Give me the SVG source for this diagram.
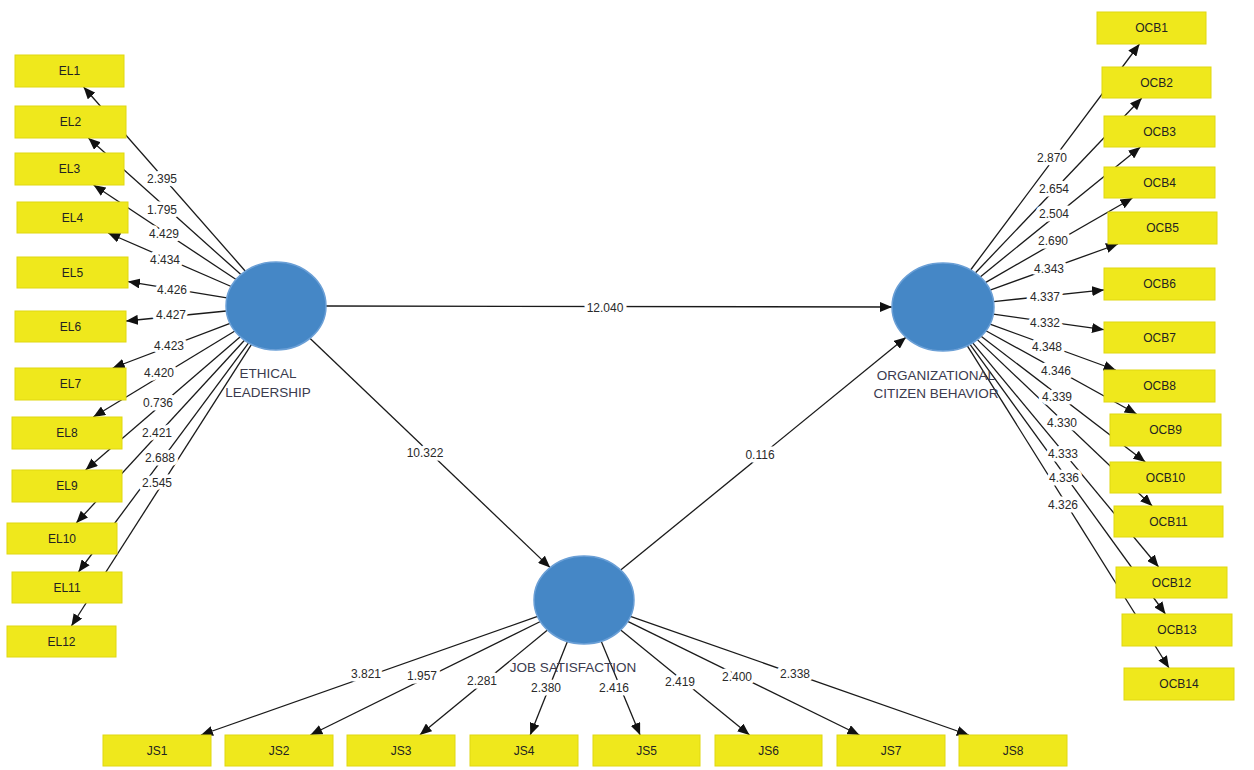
<svg xmlns="http://www.w3.org/2000/svg" width="1254" height="770" viewBox="0 0 1254 770">
<style>
.c{stroke:#1a1a1a;stroke-width:1.3;fill:none;marker-end:url(#ah)}
.box{fill:#efe81c;stroke:#e0d810;stroke-width:1}
.lv{fill:#4587c6;stroke:#6a9fd6;stroke-width:1.5}
.bt{font-family:"Liberation Sans",Arial,sans-serif;font-size:12px;fill:#222;text-anchor:middle}
.lt{font-family:"Liberation Sans",Arial,sans-serif;font-size:13.5px;fill:#3b3b4e;text-anchor:middle}
.nl{font-family:"Liberation Sans",Arial,sans-serif;font-size:12px;fill:#2a2a2a;text-anchor:middle;stroke:#fff;stroke-width:7;paint-order:stroke;stroke-linejoin:round}
</style>
<defs>
<marker id="ah" markerUnits="userSpaceOnUse" viewBox="0 0 12 10" markerWidth="12" markerHeight="10" refX="12" refY="5" orient="auto">
<path d="M0,0 L12,5 L0,10 z" fill="#111"/>
</marker>
</defs>
<rect width="1254" height="770" fill="#fff"/>
<g id="connectors">
<line class="c" x1="245.4" y1="271.2" x2="83.6" y2="87"/>
<line class="c" x1="240.9" y1="274.6" x2="88.4" y2="138"/>
<line class="c" x1="236.1" y1="279.5" x2="93.6" y2="185"/>
<line class="c" x1="231.2" y1="286.5" x2="108.1" y2="233"/>
<line class="c" x1="226.9" y1="297.9" x2="128" y2="281.6"/>
<line class="c" x1="226.3" y1="311" x2="126" y2="321"/>
<line class="c" x1="230.1" y1="323.4" x2="112.7" y2="368"/>
<line class="c" x1="234.9" y1="331" x2="93.3" y2="417"/>
<line class="c" x1="240.3" y1="336.8" x2="85.6" y2="470"/>
<line class="c" x1="244.5" y1="340.2" x2="76.3" y2="523"/>
<line class="c" x1="248.6" y1="342.8" x2="78.5" y2="572"/>
<line class="c" x1="251.5" y1="344.3" x2="71.4" y2="626"/>
<line class="c" x1="970.6" y1="270" x2="1139.5" y2="44"/>
<line class="c" x1="975.3" y1="273" x2="1141.8" y2="98"/>
<line class="c" x1="980.2" y1="276.9" x2="1140.4" y2="147"/>
<line class="c" x1="985.4" y1="282.6" x2="1132.5" y2="198"/>
<line class="c" x1="990.1" y1="290.1" x2="1118" y2="244"/>
<line class="c" x1="993.6" y1="301.6" x2="1104" y2="289.9"/>
<line class="c" x1="993.3" y1="314.1" x2="1104" y2="329.7"/>
<line class="c" x1="990" y1="324.1" x2="1115.7" y2="370"/>
<line class="c" x1="985.9" y1="330.7" x2="1136.6" y2="414"/>
<line class="c" x1="981.1" y1="336.2" x2="1145.3" y2="462"/>
<line class="c" x1="977.3" y1="339.6" x2="1152.2" y2="506"/>
<line class="c" x1="972.7" y1="342.8" x2="1158.6" y2="567"/>
<line class="c" x1="970" y1="344.3" x2="1165.4" y2="614"/>
<line class="c" x1="967.2" y1="345.7" x2="1169" y2="668"/>
<line class="c" x1="537.6" y1="616.4" x2="201" y2="735"/>
<line class="c" x1="540.4" y1="621.5" x2="310.4" y2="735"/>
<line class="c" x1="547.5" y1="630" x2="419.8" y2="735"/>
<line class="c" x1="567.4" y1="641.5" x2="530.2" y2="735"/>
<line class="c" x1="601.2" y1="641.3" x2="640.1" y2="735"/>
<line class="c" x1="620.7" y1="629.9" x2="749.5" y2="735"/>
<line class="c" x1="627.7" y1="621.4" x2="859.4" y2="735"/>
<line class="c" x1="630.4" y1="616.3" x2="968.8" y2="735"/>
<line class="c" x1="326" y1="306" x2="892" y2="307"/>
<line class="c" x1="309.9" y1="338.3" x2="550.1" y2="567.6"/>
<line class="c" x1="620.7" y1="570.1" x2="906" y2="337.2"/>
<g id="labels">
<text class="nl" x="162" y="183">2.395</text>
<text class="nl" x="162" y="214">1.795</text>
<text class="nl" x="164" y="238">4.429</text>
<text class="nl" x="165" y="264">4.434</text>
<text class="nl" x="172" y="294">4.426</text>
<text class="nl" x="171" y="319">4.427</text>
<text class="nl" x="169" y="350">4.423</text>
<text class="nl" x="159" y="377">4.420</text>
<text class="nl" x="158" y="407">0.736</text>
<text class="nl" x="157" y="437">2.421</text>
<text class="nl" x="160" y="462">2.688</text>
<text class="nl" x="157" y="487">2.545</text>
<text class="nl" x="1052" y="162">2.870</text>
<text class="nl" x="1054" y="193">2.654</text>
<text class="nl" x="1054" y="218">2.504</text>
<text class="nl" x="1053" y="245">2.690</text>
<text class="nl" x="1049" y="273">4.343</text>
<text class="nl" x="1045" y="301">4.337</text>
<text class="nl" x="1045" y="327">4.332</text>
<text class="nl" x="1047" y="351">4.348</text>
<text class="nl" x="1056" y="375">4.346</text>
<text class="nl" x="1057" y="401">4.339</text>
<text class="nl" x="1062" y="427">4.330</text>
<text class="nl" x="1063" y="458">4.333</text>
<text class="nl" x="1064" y="482">4.336</text>
<text class="nl" x="1063" y="509">4.326</text>
<text class="nl" x="366" y="678">3.821</text>
<text class="nl" x="422" y="680">1.957</text>
<text class="nl" x="482" y="685">2.281</text>
<text class="nl" x="546" y="692">2.380</text>
<text class="nl" x="614" y="692">2.416</text>
<text class="nl" x="680" y="686">2.419</text>
<text class="nl" x="737" y="681">2.400</text>
<text class="nl" x="795" y="678">2.338</text>
<text class="nl" x="605" y="312">12.040</text>
<text class="nl" x="425" y="457">10.322</text>
<text class="nl" x="760" y="459">0.116</text>
</g>
</g>
<g id="EL"><ellipse class="lv" cx="276" cy="306" rx="50" ry="44"/><text class="lt" x="268" y="378">ETHICAL</text><text class="lt" x="268" y="397">LEADERSHIP</text></g>
<g id="OCB"><ellipse class="lv" cx="943" cy="307" rx="51" ry="44"/><text class="lt" x="936" y="380">ORGANIZATIONAL</text><text class="lt" x="936" y="398">CITIZEN BEHAVIOR</text></g>
<g id="JS"><ellipse class="lv" cx="584" cy="600" rx="50" ry="44"/><text class="lt" x="573" y="672">JOB SATISFACTION</text></g>
<g id="EL1"><rect class="box" x="15" y="55" width="109" height="32"/><text class="bt" x="69.5" y="75">EL1</text></g>
<g id="EL2"><rect class="box" x="15" y="106" width="111" height="32"/><text class="bt" x="70.5" y="126">EL2</text></g>
<g id="EL3"><rect class="box" x="15" y="153" width="109" height="32"/><text class="bt" x="69.5" y="173">EL3</text></g>
<g id="EL4"><rect class="box" x="17" y="202" width="111" height="31"/><text class="bt" x="72.5" y="221.5">EL4</text></g>
<g id="EL5"><rect class="box" x="17" y="257" width="111" height="31"/><text class="bt" x="72.5" y="276.5">EL5</text></g>
<g id="EL6"><rect class="box" x="15" y="311" width="111" height="31"/><text class="bt" x="70.5" y="330.5">EL6</text></g>
<g id="EL7"><rect class="box" x="15" y="368" width="111" height="32"/><text class="bt" x="70.5" y="388">EL7</text></g>
<g id="EL8"><rect class="box" x="12" y="417" width="110" height="32"/><text class="bt" x="67" y="437">EL8</text></g>
<g id="EL9"><rect class="box" x="12" y="470" width="110" height="32"/><text class="bt" x="67" y="490">EL9</text></g>
<g id="EL10"><rect class="box" x="7" y="523" width="110" height="31"/><text class="bt" x="62" y="542.5">EL10</text></g>
<g id="EL11"><rect class="box" x="12" y="572" width="110" height="31"/><text class="bt" x="67" y="591.5">EL11</text></g>
<g id="EL12"><rect class="box" x="7" y="626" width="109" height="31"/><text class="bt" x="61.5" y="645.5">EL12</text></g>
<g id="OCB1"><rect class="box" x="1097" y="12" width="109" height="32"/><text class="bt" x="1151.5" y="32">OCB1</text></g>
<g id="OCB2"><rect class="box" x="1102" y="67" width="109" height="31"/><text class="bt" x="1156.5" y="86.5">OCB2</text></g>
<g id="OCB3"><rect class="box" x="1104" y="116" width="111" height="31"/><text class="bt" x="1159.5" y="135.5">OCB3</text></g>
<g id="OCB4"><rect class="box" x="1104" y="167" width="111" height="31"/><text class="bt" x="1159.5" y="186.5">OCB4</text></g>
<g id="OCB5"><rect class="box" x="1108" y="212" width="109" height="32"/><text class="bt" x="1162.5" y="232">OCB5</text></g>
<g id="OCB6"><rect class="box" x="1104" y="268" width="111" height="32"/><text class="bt" x="1159.5" y="288">OCB6</text></g>
<g id="OCB7"><rect class="box" x="1104" y="322" width="111" height="31"/><text class="bt" x="1159.5" y="341.5">OCB7</text></g>
<g id="OCB8"><rect class="box" x="1104" y="370" width="111" height="32"/><text class="bt" x="1159.5" y="390">OCB8</text></g>
<g id="OCB9"><rect class="box" x="1110" y="414" width="111" height="32"/><text class="bt" x="1165.5" y="434">OCB9</text></g>
<g id="OCB10"><rect class="box" x="1110" y="462" width="111" height="31"/><text class="bt" x="1165.5" y="481.5">OCB10</text></g>
<g id="OCB11"><rect class="box" x="1114" y="506" width="109" height="31"/><text class="bt" x="1168.5" y="525.5">OCB11</text></g>
<g id="OCB12"><rect class="box" x="1116" y="567" width="111" height="31"/><text class="bt" x="1171.5" y="586.5">OCB12</text></g>
<g id="OCB13"><rect class="box" x="1122" y="614" width="110" height="32"/><text class="bt" x="1177" y="634">OCB13</text></g>
<g id="OCB14"><rect class="box" x="1124" y="668" width="110" height="32"/><text class="bt" x="1179" y="688">OCB14</text></g>
<g id="JS1"><rect class="box" x="103" y="735" width="108" height="31"/><text class="bt" x="157" y="754.5">JS1</text></g>
<g id="JS2"><rect class="box" x="225" y="735" width="108" height="31"/><text class="bt" x="279" y="754.5">JS2</text></g>
<g id="JS3"><rect class="box" x="347" y="735" width="108" height="31"/><text class="bt" x="401" y="754.5">JS3</text></g>
<g id="JS4"><rect class="box" x="470" y="735" width="108" height="31"/><text class="bt" x="524" y="754.5">JS4</text></g>
<g id="JS5"><rect class="box" x="593" y="735" width="107" height="31"/><text class="bt" x="646.5" y="754.5">JS5</text></g>
<g id="JS6"><rect class="box" x="715" y="735" width="107" height="31"/><text class="bt" x="768.5" y="754.5">JS6</text></g>
<g id="JS7"><rect class="box" x="837" y="735" width="108" height="31"/><text class="bt" x="891" y="754.5">JS7</text></g>
<g id="JS8"><rect class="box" x="959" y="735" width="108" height="31"/><text class="bt" x="1013" y="754.5">JS8</text></g>
</svg>
